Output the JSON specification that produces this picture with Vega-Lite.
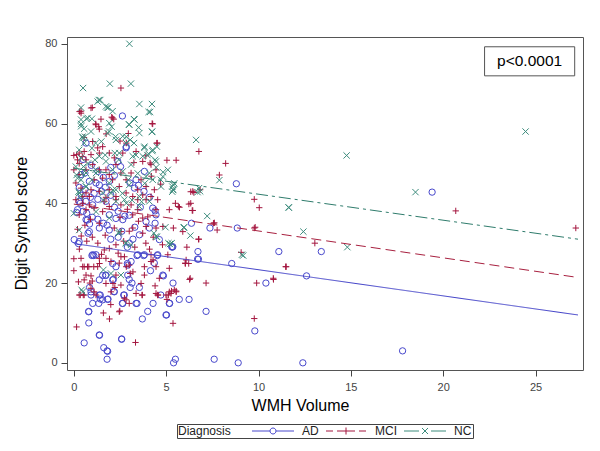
{
"$schema":"https://vega.github.io/schema/vega-lite/v6.json",
"width":516,"height":333,
"autosize":{"type":"none"},
"padding":{"left":67,"top":37,"right":17,"bottom":81},
"background":"white",
"config":{"view":{"stroke":"#555","strokeWidth":1},"font":"Liberation Sans",
 "legend":{"title":"Diagnosis","orient":"none","legendX":110,"legendY":387,"direction":"horizontal","titleOrient":"left","titleFont":"Liberation Sans","titleFontSize":12,"titleFontWeight":"normal","titleColor":"#222","titlePadding":20,"labelFont":"Liberation Sans","labelFontSize":12,"labelColor":"#222","strokeColor":"#444","padding":1,"symbolSize":100,"symbolStrokeWidth":1,"symbolOffset":16,"labelOffset":23,"columnPadding":5}},
"datasets":{
"fit":[{"g":"AD","x":0,"y":29.9},{"g":"AD","x":27.3,"y":12.0},{"g":"MCI","x":0,"y":39.8},{"g":"MCI","x":27.3,"y":21.4},{"g":"NC","x":0,"y":48.8},{"g":"NC","x":27.3,"y":31.0}],
"note":[{"label":"p<0.0001"}],
"pts":[
{"g":"AD","x":19.4,"y":42.8},{"g":"AD","x":8.8,"y":44.9},{"g":"AD","x":17.8,"y":3.0},{"g":"AD","x":12.4,"y":0},{"g":"AD","x":8.9,"y":0},{"g":"AD","x":7.6,"y":0.9},{"g":"AD","x":5.5,"y":0.9},{"g":"AD","x":5.4,"y":0},{"g":"AD","x":9.8,"y":8.0},{"g":"AD","x":10.4,"y":20.0},{"g":"AD","x":11.1,"y":27.9},{"g":"AD","x":12.6,"y":21.8},{"g":"AD","x":13.4,"y":27.9},{"g":"AD","x":8.55,"y":24.9},{"g":"AD","x":8.85,"y":33.8},{"g":"AD","x":7.37,"y":33.8},{"g":"AD","x":7.16,"y":12.9},{"g":"AD","x":6.72,"y":27.9},{"g":"AD","x":6.7,"y":26.0},{"g":"AD","x":6.37,"y":35.0},{"g":"AD","x":6.24,"y":15.9},{"g":"AD","x":5.71,"y":15.9},{"g":"AD","x":5.37,"y":20.0},{"g":"AD","x":5.33,"y":29.0},{"g":"AD","x":5.19,"y":14.9},{"g":"AD","x":5.02,"y":12.0},{"g":"AD","x":4.85,"y":21.8},{"g":"AD","x":4.71,"y":17.0},{"g":"AD","x":4.63,"y":30.9},{"g":"AD","x":4.52,"y":26.9},{"g":"AD","x":4.4,"y":35.0},{"g":"AD","x":4.4,"y":38.1},{"g":"AD","x":4.29,"y":14.9},{"g":"AD","x":4.15,"y":23.1},{"g":"AD","x":4.0,"y":12.9},{"g":"AD","x":3.78,"y":26.9},{"g":"AD","x":3.71,"y":11.0},{"g":"AD","x":3.55,"y":18.9},{"g":"AD","x":3.42,"y":14.9},{"g":"AD","x":3.42,"y":26.9},{"g":"AD","x":3.15,"y":20.0},{"g":"AD","x":3.05,"y":18.9},{"g":"AD","x":3.0,"y":20.9},{"g":"AD","x":2.9,"y":24.9},{"g":"AD","x":2.9,"y":29.0},{"g":"AD","x":2.76,"y":36.8},{"g":"AD","x":2.7,"y":17.0},{"g":"AD","x":2.63,"y":14.9},{"g":"AD","x":2.59,"y":5.9},{"g":"AD","x":2.63,"y":61.9},{"g":"AD","x":2.84,"y":54.2},{"g":"AD","x":2.53,"y":49.2},{"g":"AD","x":2.18,"y":17.9},{"g":"AD","x":2.14,"y":20.9},{"g":"AD","x":2.1,"y":24.9},{"g":"AD","x":1.85,"y":16.0},{"g":"AD","x":1.8,"y":0.9},{"g":"AD","x":1.8,"y":3.0},{"g":"AD","x":1.62,"y":3.8},{"g":"AD","x":1.72,"y":21.9},{"g":"AD","x":1.56,"y":21.9},{"g":"AD","x":1.43,"y":16.0},{"g":"AD","x":1.35,"y":14.9},{"g":"AD","x":1.43,"y":17.0},{"g":"AD","x":1.39,"y":6.9},{"g":"AD","x":1.02,"y":14.9},{"g":"AD","x":0.93,"y":17.8},{"g":"AD","x":0.85,"y":18.9},{"g":"AD","x":0.81,"y":12.9},{"g":"AD","x":0.81,"y":10.0},{"g":"AD","x":0.56,"y":5.0},{"g":"AD","x":0.02,"y":30.9},{"g":"AD","x":0.25,"y":29.9},{"g":"AD","x":0.15,"y":37.7},{"g":"AD","x":0.35,"y":40.0},{"g":"AD","x":1.08,"y":26.9},{"g":"AD","x":0.98,"y":26.9},{"g":"AD","x":0.73,"y":35.8},{"g":"AD","x":0.85,"y":34.8},{"g":"AD","x":0.77,"y":32.5},
{"g":"AD","x":0.29,"y":30.4},{"g":"AD","x":1.02,"y":27.1},{"g":"AD","x":1.2,"y":27.1},{"g":"AD","x":1.74,"y":22.0},{"g":"AD","x":2.28,"y":24.1},{"g":"AD","x":2.92,"y":24.5},{"g":"AD","x":3.1,"y":25.4},{"g":"AD","x":3.46,"y":27.1},{"g":"AD","x":3.82,"y":27.1},{"g":"AD","x":4.54,"y":27.1},{"g":"AD","x":4.36,"y":25.0},{"g":"AD","x":4.82,"y":22.0},{"g":"AD","x":5.36,"y":29.1},{"g":"AD","x":1.38,"y":20.8},{"g":"AD","x":2.1,"y":20.8},{"g":"AD","x":2.92,"y":22.0},{"g":"AD","x":0.2,"y":38.4},{"g":"AD","x":0.66,"y":35.9},{"g":"AD","x":1.38,"y":33.8},{"g":"AD","x":1.92,"y":33.3},{"g":"AD","x":0.84,"y":32.9},{"g":"AD","x":3.55,"y":32.1},{"g":"AD","x":4.09,"y":33.8},{"g":"AD","x":3.91,"y":35.4},{"g":"AD","x":4.45,"y":37.1},{"g":"AD","x":4.27,"y":38.8},{"g":"AD","x":2.65,"y":35.9},{"g":"AD","x":2.28,"y":36.2},{"g":"AD","x":1.92,"y":37.1},{"g":"AD","x":0.29,"y":40.5},{"g":"AD","x":0.66,"y":40.5},{"g":"AD","x":1.74,"y":40.5},{"g":"AD","x":1.02,"y":39.6},
{"g":"AD","x":0.66,"y":55.1},{"g":"AD","x":2.83,"y":53.9},{"g":"AD","x":2.38,"y":50.5},{"g":"AD","x":3.82,"y":48.0},{"g":"AD","x":3.37,"y":45.9},{"g":"AD","x":1.2,"y":45.1},{"g":"AD","x":1.38,"y":44.6},{"g":"AD","x":0.84,"y":45.5},{"g":"AD","x":0.39,"y":47.2},{"g":"AD","x":1.92,"y":45.5},{"g":"AD","x":3.28,"y":43.8},{"g":"AD","x":0.6,"y":47.6},{"g":"AD","x":3.04,"y":45.1},
{"g":"AD","x":0.93,"y":17.0},{"g":"AD","x":1.38,"y":17.0},{"g":"AD","x":2.19,"y":17.8},{"g":"AD","x":2.73,"y":17.0},{"g":"AD","x":1.56,"y":15.8},{"g":"AD","x":1.83,"y":15.9},{"g":"AD","x":2.65,"y":14.9},{"g":"AD","x":3.37,"y":14.9},{"g":"AD","x":5.17,"y":14.9},{"g":"AD","x":4.99,"y":12.0},{"g":"AD","x":0.8,"y":12.8},{"g":"AD","x":1.38,"y":7.0},{"g":"AD","x":2.59,"y":6.0},{"g":"AD","x":1.83,"y":2.9},
{"g":"AD","x":0.4,"y":42},{"g":"AD","x":0.6,"y":43.5},{"g":"AD","x":0.9,"y":41.5},{"g":"AD","x":1.1,"y":42.5},{"g":"AD","x":1.3,"y":41},{"g":"AD","x":1.5,"y":43},{"g":"AD","x":1.7,"y":44},{"g":"AD","x":2.0,"y":42},{"g":"AD","x":2.2,"y":39},{"g":"AD","x":2.4,"y":38},{"g":"AD","x":0.5,"y":38},{"g":"AD","x":0.7,"y":37.5},{"g":"AD","x":1.0,"y":36.5},{"g":"AD","x":1.3,"y":36},{"g":"AD","x":1.6,"y":35},{"g":"AD","x":1.8,"y":34.5},{"g":"AD","x":2.0,"y":31},{"g":"AD","x":2.4,"y":31.5},{"g":"AD","x":2.6,"y":33},{"g":"AD","x":3.0,"y":30},{"g":"AD","x":3.2,"y":31},{"g":"AD","x":3.3,"y":34},{"g":"AD","x":3.0,"y":37},{"g":"AD","x":3.6,"y":39},{"g":"AD","x":2.2,"y":47},{"g":"AD","x":2.0,"y":49},{"g":"AD","x":1.6,"y":46.5},{"g":"AD","x":1.3,"y":48},{"g":"AD","x":0.95,"y":49.5},{"g":"AD","x":0.5,"y":51},{"g":"AD","x":0.3,"y":44},{"g":"AD","x":3.8,"y":43},{"g":"AD","x":4.1,"y":41.5},{"g":"AD","x":3.5,"y":44.5},{"g":"AD","x":5.3,"y":29.1},{"g":"AD","x":6.75,"y":26.0},
{"g":"MCI","x":2.55,"y":68.9},{"g":"MCI","x":0.31,"y":63},{"g":"MCI","x":0.39,"y":62.6},{"g":"MCI","x":1.0,"y":64},{"g":"MCI","x":1.18,"y":59.9},{"g":"MCI","x":1.35,"y":59.2},{"g":"MCI","x":1.47,"y":61.1},{"g":"MCI","x":2.16,"y":61.1},{"g":"MCI","x":2.05,"y":61.6},{"g":"MCI","x":4.27,"y":59.9},{"g":"MCI","x":4.52,"y":55.1},{"g":"MCI","x":2.84,"y":55.1},{"g":"MCI","x":5.04,"y":50.8},{"g":"MCI","x":5.54,"y":50.8},{"g":"MCI","x":8.22,"y":50.0},{"g":"MCI","x":6.77,"y":53.0},{"g":"MCI","x":7.88,"y":47.1},{"g":"MCI","x":6.33,"y":42.9},{"g":"MCI","x":5.5,"y":40.0},{"g":"MCI","x":5.66,"y":39.2},{"g":"MCI","x":6.23,"y":39.8},{"g":"MCI","x":6.41,"y":38.2},{"g":"MCI","x":6.5,"y":42.7},{"g":"MCI","x":9.77,"y":41.0},{"g":"MCI","x":10.04,"y":38.9},{"g":"MCI","x":9.77,"y":33.8},{"g":"MCI","x":7.61,"y":35.1},{"g":"MCI","x":7.76,"y":33.3},{"g":"MCI","x":20.68,"y":38.1},{"g":"MCI","x":27.18,"y":33.8},{"g":"MCI","x":13.05,"y":30.0},{"g":"MCI","x":11.47,"y":24.1},{"g":"MCI","x":10.81,"y":20.9},{"g":"MCI","x":9.9,"y":20.0},{"g":"MCI","x":9.77,"y":11.1},{"g":"MCI","x":7.16,"y":20.0},{"g":"MCI","x":6.27,"y":20.9},{"g":"MCI","x":6.12,"y":29.0},{"g":"MCI","x":6.77,"y":31.0},{"g":"MCI","x":6.04,"y":24.9},{"g":"MCI","x":6.22,"y":24.9},{"g":"MCI","x":5.37,"y":9.9},{"g":"MCI","x":5.29,"y":18.0},{"g":"MCI","x":5.54,"y":18.0},{"g":"MCI","x":5.12,"y":17.0},{"g":"MCI","x":5.04,"y":15.9},{"g":"MCI","x":4.56,"y":17.0},{"g":"MCI","x":4.29,"y":25.8},{"g":"MCI","x":3.82,"y":24.1},{"g":"MCI","x":3.71,"y":17.0},{"g":"MCI","x":3.34,"y":5.1},{"g":"MCI","x":2.49,"y":13.0},{"g":"MCI","x":1.93,"y":11.0},{"g":"MCI","x":0.15,"y":9.0},{"g":"MCI","x":0,"y":26.1},{"g":"MCI","x":0,"y":23.1},{"g":"MCI","x":0.35,"y":17.0},{"g":"MCI","x":0.56,"y":17.0},{"g":"MCI","x":0.87,"y":20},{"g":"MCI","x":0.93,"y":21.8},{"g":"MCI","x":0.56,"y":24.1},{"g":"MCI","x":0.81,"y":24.1},{"g":"MCI","x":1.08,"y":24.1},{"g":"MCI","x":1.29,"y":24.1},{"g":"MCI","x":1.39,"y":24.9},{"g":"MCI","x":2.22,"y":18.9},{"g":"MCI","x":2.12,"y":19.9},{"g":"MCI","x":2.74,"y":16.2},{"g":"MCI","x":3.0,"y":14.9},{"g":"MCI","x":3.05,"y":22.4},{"g":"MCI","x":2.84,"y":24.1},{"g":"MCI","x":0,"y":52},{"g":"MCI","x":0.15,"y":52.2},{"g":"MCI","x":0.29,"y":50},{"g":"MCI","x":0.46,"y":51.7},
{"g":"MCI","x":6.44,"y":43.0},{"g":"MCI","x":6.84,"y":43.4},{"g":"MCI","x":5.72,"y":39.0},{"g":"MCI","x":6.33,"y":40.0},{"g":"MCI","x":6.44,"y":38.2},{"g":"MCI","x":5.39,"y":33.8},{"g":"MCI","x":7.56,"y":35.0},{"g":"MCI","x":9.82,"y":34.0},{"g":"MCI","x":6.75,"y":31.0},{"g":"MCI","x":9.06,"y":27.7},{"g":"MCI","x":6.03,"y":25.0},{"g":"MCI","x":11.5,"y":24.1},{"g":"MCI","x":6.3,"y":21.2},{"g":"MCI","x":10.8,"y":21.2},
{"g":"MCI","x":0.29,"y":17},{"g":"MCI","x":0.51,"y":17},{"g":"MCI","x":1.1,"y":17.8},{"g":"MCI","x":2.83,"y":15.8},{"g":"MCI","x":2.46,"y":12.8},{"g":"MCI","x":3.69,"y":17},{"g":"MCI","x":4.54,"y":17},{"g":"MCI","x":4.99,"y":17},{"g":"MCI","x":5.17,"y":17.8},{"g":"MCI","x":5.54,"y":17.8},
{"g":"MCI","x":0.39,"y":26.2},{"g":"MCI","x":0.48,"y":24.1},{"g":"MCI","x":0.74,"y":24.1},{"g":"MCI","x":1.38,"y":26.2},{"g":"MCI","x":1.74,"y":26.2},{"g":"MCI","x":1.65,"y":28.3},{"g":"MCI","x":1.92,"y":28.7},{"g":"MCI","x":2.28,"y":29.6},{"g":"MCI","x":2.01,"y":25.4},{"g":"MCI","x":2.46,"y":25.0},{"g":"MCI","x":2.55,"y":26.6},{"g":"MCI","x":2.74,"y":26.6},{"g":"MCI","x":3.0,"y":24.5},{"g":"MCI","x":4.18,"y":27.1},{"g":"MCI","x":4.18,"y":25.4},{"g":"MCI","x":4.45,"y":24.1},{"g":"MCI","x":5.09,"y":27.1},{"g":"MCI","x":5.17,"y":23.7},{"g":"MCI","x":5.9,"y":32.9},{"g":"MCI","x":4.82,"y":34.2},{"g":"MCI","x":4.45,"y":33.8},{"g":"MCI","x":3.91,"y":34.2},{"g":"MCI","x":3.73,"y":32.5},{"g":"MCI","x":3.19,"y":33.8},{"g":"MCI","x":3.0,"y":33},{"g":"MCI","x":2.55,"y":32.9},{"g":"MCI","x":2.19,"y":33.8},{"g":"MCI","x":1.38,"y":35},{"g":"MCI","x":0.29,"y":37.1},{"g":"MCI","x":0.66,"y":38.4},{"g":"MCI","x":1.1,"y":38.8},{"g":"MCI","x":1.56,"y":37.9},{"g":"MCI","x":3.19,"y":37.1},{"g":"MCI","x":3.46,"y":38.4},{"g":"MCI","x":3.73,"y":36.3},{"g":"MCI","x":4.0,"y":36.6},{"g":"MCI","x":4.45,"y":38.4},{"g":"MCI","x":4.54,"y":40.9},{"g":"MCI","x":5.17,"y":38.4},{"g":"MCI","x":3.1,"y":39.6},{"g":"MCI","x":3.46,"y":40.9},{"g":"MCI","x":3.91,"y":40.9},{"g":"MCI","x":2.55,"y":39.6},{"g":"MCI","x":1.92,"y":39.2},{"g":"MCI","x":2.28,"y":40.9},{"g":"MCI","x":0.11,"y":40.9},{"g":"MCI","x":0.48,"y":40.0},{"g":"MCI","x":0.84,"y":39.6},{"g":"MCI","x":1.65,"y":40.5},{"g":"MCI","x":0.56,"y":20.8},{"g":"MCI","x":0.66,"y":22.0},{"g":"MCI","x":0.93,"y":18.7},{"g":"MCI","x":1.2,"y":17.0},{"g":"MCI","x":1.74,"y":19.9},{"g":"MCI","x":2.01,"y":17.8},{"g":"MCI","x":2.28,"y":22.0},{"g":"MCI","x":2.55,"y":19.5},{"g":"MCI","x":3.37,"y":17.4},{"g":"MCI","x":3.64,"y":19.9},{"g":"MCI","x":3.82,"y":22.0},{"g":"MCI","x":4.45,"y":17.4},{"g":"MCI","x":4.63,"y":21.2},{"g":"MCI","x":5.26,"y":17.4},{"g":"MCI","x":5.44,"y":18.3},{"g":"MCI","x":6.08,"y":25.8},
{"g":"MCI","x":0.39,"y":63.1},{"g":"MCI","x":0.93,"y":63.9},{"g":"MCI","x":1.2,"y":59.7},{"g":"MCI","x":1.38,"y":58.6},{"g":"MCI","x":2.1,"y":61.4},{"g":"MCI","x":4.24,"y":60.0},{"g":"MCI","x":4.49,"y":55.1},{"g":"MCI","x":1.02,"y":55.5},{"g":"MCI","x":1.29,"y":53.9},{"g":"MCI","x":1.56,"y":54.2},{"g":"MCI","x":0.29,"y":52.6},{"g":"MCI","x":0.2,"y":50.9},{"g":"MCI","x":0.56,"y":53.0},{"g":"MCI","x":0.93,"y":52.2},{"g":"MCI","x":1.38,"y":52.6},{"g":"MCI","x":0.66,"y":50.9},{"g":"MCI","x":1.92,"y":52.6},{"g":"MCI","x":2.65,"y":52.6},{"g":"MCI","x":2.19,"y":51.4},{"g":"MCI","x":2.28,"y":49.7},{"g":"MCI","x":3.37,"y":53.0},{"g":"MCI","x":3.73,"y":50.5},{"g":"MCI","x":4.18,"y":49.7},{"g":"MCI","x":4.45,"y":48.4},{"g":"MCI","x":1.02,"y":49.7},{"g":"MCI","x":1.38,"y":48.4},{"g":"MCI","x":1.74,"y":48.4},{"g":"MCI","x":1.92,"y":47.2},{"g":"MCI","x":2.55,"y":47.6},{"g":"MCI","x":0,"y":48.4},{"g":"MCI","x":0.29,"y":47.2},{"g":"MCI","x":0.66,"y":48.4},{"g":"MCI","x":1.1,"y":45.9},{"g":"MCI","x":1.56,"y":46.3},{"g":"MCI","x":2.1,"y":45.9},{"g":"MCI","x":2.46,"y":44.2},{"g":"MCI","x":2.83,"y":45.9},{"g":"MCI","x":3.1,"y":47.6},{"g":"MCI","x":3.64,"y":45.9},{"g":"MCI","x":3.91,"y":44.2},{"g":"MCI","x":4.36,"y":43.4},{"g":"MCI","x":3.46,"y":43.4},{"g":"MCI","x":0.11,"y":45.1},{"g":"MCI","x":0.39,"y":43.8},{"g":"MCI","x":0.66,"y":42.6},{"g":"MCI","x":0.93,"y":43.4},{"g":"MCI","x":1.38,"y":43.0},{"g":"MCI","x":1.92,"y":43.4},{"g":"MCI","x":2.83,"y":42.6},{"g":"MCI","x":3.19,"y":41.7},{"g":"MCI","x":3.73,"y":42.1},{"g":"MCI","x":4.18,"y":41.7},{"g":"MCI","x":0.48,"y":41.7},{"g":"MCI","x":0.84,"y":41.7},{"g":"MCI","x":1.74,"y":41.5},{"g":"MCI","x":2.28,"y":41.7},{"g":"MCI","x":4.13,"y":50.1},
{"g":"MCI","x":0.3,"y":28.5},{"g":"MCI","x":0.7,"y":30.5},{"g":"MCI","x":1.0,"y":31.5},{"g":"MCI","x":1.3,"y":30},{"g":"MCI","x":2.7,"y":30.5},{"g":"MCI","x":3.3,"y":29},{"g":"MCI","x":3.9,"y":30},{"g":"MCI","x":4.3,"y":31.5},{"g":"MCI","x":0.2,"y":33.5},{"g":"MCI","x":0.6,"y":34.5},{"g":"MCI","x":0.9,"y":36},{"g":"MCI","x":1.7,"y":32},{"g":"MCI","x":2.5,"y":36.5},{"g":"MCI","x":2.9,"y":38.5},{"g":"MCI","x":3.5,"y":35.5},{"g":"MCI","x":4.1,"y":28.5},{"g":"MCI","x":0.4,"y":31.8},{"g":"MCI","x":1.5,"y":27.2},{"g":"MCI","x":1.0,"y":20.5},{"g":"MCI","x":0.25,"y":20.3},{"g":"MCI","x":2.4,"y":27.5},{"g":"MCI","x":1.6,"y":12.5},{"g":"MCI","x":3.2,"y":22.8},{"g":"MCI","x":2.0,"y":14.6},{"g":"MCI","x":4.4,"y":19.3},{"g":"MCI","x":4.8,"y":29.6},{"g":"MCI","x":4.7,"y":44.8},{"g":"MCI","x":4.2,"y":46.8},{"g":"MCI","x":2.95,"y":57.5},{"g":"MCI","x":3.25,"y":50.2},{"g":"MCI","x":0.55,"y":56.5},{"g":"MCI","x":1.75,"y":57.4},{"g":"MCI","x":2.5,"y":55.6},{"g":"MCI","x":3.9,"y":51.9},
{"g":"NC","x":3.01,"y":80},{"g":"NC","x":1.95,"y":70},{"g":"NC","x":3.09,"y":70},{"g":"NC","x":0.5,"y":68.9},{"g":"NC","x":0.39,"y":64},{"g":"NC","x":1.35,"y":65.9},{"g":"NC","x":1.43,"y":65.9},{"g":"NC","x":1.29,"y":65.5},{"g":"NC","x":1.8,"y":64},{"g":"NC","x":1.87,"y":64},{"g":"NC","x":3.55,"y":64.9},{"g":"NC","x":4.23,"y":64.9},{"g":"NC","x":4.13,"y":62.9},{"g":"NC","x":4.05,"y":62.9},{"g":"NC","x":3.26,"y":61.1},{"g":"NC","x":2.99,"y":59.8},{"g":"NC","x":3.51,"y":59},{"g":"NC","x":4.23,"y":57.9},{"g":"NC","x":0.68,"y":61.2},{"g":"NC","x":0.98,"y":61.2},{"g":"NC","x":0.39,"y":59.9},{"g":"NC","x":0.56,"y":58.7},{"g":"NC","x":0.46,"y":56.7},{"g":"NC","x":0.6,"y":56.7},{"g":"NC","x":6.62,"y":55.9},{"g":"NC","x":14.77,"y":52.0},{"g":"NC","x":24.46,"y":58.0},{"g":"NC","x":18.5,"y":42.8},{"g":"NC","x":11.64,"y":38.9},{"g":"NC","x":12.43,"y":32.9},{"g":"NC","x":14.81,"y":29.0},{"g":"NC","x":9.17,"y":26.9},{"g":"NC","x":7.22,"y":36.8},{"g":"NC","x":6.78,"y":43.8},{"g":"NC","x":6.7,"y":42.8},{"g":"NC","x":7.88,"y":45.8},{"g":"NC","x":5.33,"y":42.9},{"g":"NC","x":5.33,"y":44.2},{"g":"NC","x":5.44,"y":45.0},{"g":"NC","x":4.96,"y":34.0},{"g":"NC","x":5.12,"y":30.0},{"g":"NC","x":5.21,"y":29.8},{"g":"NC","x":5.95,"y":33.9},{"g":"NC","x":6.31,"y":31.9},{"g":"NC","x":4.83,"y":47.8},{"g":"NC","x":4.71,"y":45.9},{"g":"NC","x":4.46,"y":49},{"g":"NC","x":4.4,"y":50.9},{"g":"NC","x":4.25,"y":53.1},{"g":"NC","x":4.5,"y":54.2},{"g":"NC","x":3.98,"y":52.1},{"g":"NC","x":4.05,"y":52.4},{"g":"NC","x":3.36,"y":52.1},{"g":"NC","x":3.82,"y":54.2},{"g":"NC","x":3.26,"y":55.1},{"g":"NC","x":2.84,"y":56.7},{"g":"NC","x":3.05,"y":55.9},{"g":"NC","x":2.26,"y":56.7},{"g":"NC","x":1.91,"y":58},{"g":"NC","x":2.05,"y":59.2},{"g":"NC","x":1.49,"y":55.5},{"g":"NC","x":1.18,"y":55.1},{"g":"NC","x":0.98,"y":53.8},{"g":"NC","x":1.7,"y":52.1},{"g":"NC","x":2.22,"y":52.6},{"g":"NC","x":2.43,"y":50.9},{"g":"NC","x":1.14,"y":50.9},{"g":"NC","x":0.77,"y":50},{"g":"NC","x":0.52,"y":49.2},{"g":"NC","x":0.15,"y":47.1},{"g":"NC","x":0.46,"y":47.5},{"g":"NC","x":0.39,"y":45.9},{"g":"NC","x":0.66,"y":44.2},{"g":"NC","x":0.98,"y":45.9},{"g":"NC","x":1.18,"y":48.4},{"g":"NC","x":0.25,"y":42.9},{"g":"NC","x":0.35,"y":41.7},{"g":"NC","x":2.01,"y":42.5},{"g":"NC","x":2.63,"y":42.5},{"g":"NC","x":2.12,"y":43.3},{"g":"NC","x":2.84,"y":40},{"g":"NC","x":3.15,"y":40.8},{"g":"NC","x":3.67,"y":40.4},{"g":"NC","x":3.84,"y":45},{"g":"NC","x":3.46,"y":47.5},{"g":"NC","x":2.95,"y":45.9},{"g":"NC","x":1.6,"y":40.8},{"g":"NC","x":2.43,"y":32.5},{"g":"NC","x":2.8,"y":30},{"g":"NC","x":2.01,"y":22.4},{"g":"NC","x":1.6,"y":23.3},{"g":"NC","x":0.42,"y":18.3},{"g":"NC","x":4.34,"y":32.5},{"g":"NC","x":4.5,"y":31.6},
{"g":"NC","x":1.74,"y":64.3},{"g":"NC","x":2.1,"y":63.1},{"g":"NC","x":0.39,"y":61},{"g":"NC","x":0.75,"y":61.4},{"g":"NC","x":3.28,"y":61.0},{"g":"NC","x":3.0,"y":59.7},{"g":"NC","x":4.24,"y":58.0},{"g":"NC","x":3.55,"y":57.6},{"g":"NC","x":0.39,"y":59.3},{"g":"NC","x":0.93,"y":58.0},{"g":"NC","x":1.92,"y":60.1},{"g":"NC","x":1.83,"y":57.6},{"g":"NC","x":2.65,"y":56.8},{"g":"NC","x":2.28,"y":55.9},{"g":"NC","x":0.48,"y":56.4},{"g":"NC","x":0.56,"y":55.1},{"g":"NC","x":2.83,"y":55.1},{"g":"NC","x":3.82,"y":53.9},{"g":"NC","x":4.27,"y":53.4},{"g":"NC","x":3.19,"y":51.8},{"g":"NC","x":3.73,"y":51.8},{"g":"NC","x":4.45,"y":50.5},{"g":"NC","x":4.09,"y":47.6},{"g":"NC","x":4.82,"y":46.7},{"g":"NC","x":5.36,"y":43.4},{"g":"NC","x":5.09,"y":48.4},{"g":"NC","x":0.29,"y":53.4},{"g":"NC","x":0.39,"y":51.4},{"g":"NC","x":1.38,"y":51.8},{"g":"NC","x":1.74,"y":50.5},{"g":"NC","x":2.46,"y":52.6},{"g":"NC","x":3.1,"y":49.7},{"g":"NC","x":0.11,"y":49.2},{"g":"NC","x":0.66,"y":47.6},{"g":"NC","x":1.2,"y":47.6},{"g":"NC","x":2.1,"y":48.4},{"g":"NC","x":2.65,"y":48.0},{"g":"NC","x":0.2,"y":46.3},{"g":"NC","x":0.66,"y":44.2},{"g":"NC","x":1.92,"y":45.1},{"g":"NC","x":3.0,"y":44.6},{"g":"NC","x":4.27,"y":45.9},{"g":"NC","x":4.72,"y":44.2},{"g":"NC","x":0.29,"y":42.6},{"g":"NC","x":1.56,"y":42.6},{"g":"NC","x":2.28,"y":43.4},{"g":"NC","x":3.55,"y":41.7},{"g":"NC","x":3.91,"y":46.7},
{"g":"NC","x":0.29,"y":33.3},{"g":"NC","x":2.46,"y":32.9},{"g":"NC","x":2.83,"y":30.0},{"g":"NC","x":3.1,"y":29.6},{"g":"NC","x":4.45,"y":31.7},{"g":"NC","x":0.48,"y":17.8},{"g":"NC","x":2.28,"y":40.5},{"g":"NC","x":2.74,"y":40.9},{"g":"NC","x":0,"y":37.5},{"g":"NC","x":1.92,"y":36.3},{"g":"NC","x":1.2,"y":37.9},{"g":"NC","x":3.55,"y":39.2},{"g":"NC","x":4.09,"y":40.5},{"g":"NC","x":2.55,"y":22.0},
{"g":"NC","x":5.39,"y":44.6},{"g":"NC","x":5.39,"y":43.4},{"g":"NC","x":6.84,"y":43.0},{"g":"NC","x":5.97,"y":34.0},{"g":"NC","x":5.3,"y":30.0},{"g":"NC","x":9.1,"y":27.1},{"g":"NC","x":11.63,"y":39.0}
]},
"layer":[
{"data":{"name":"pts"},
 "transform":[{"filter":"datum.g === 'AD'"}],
 "mark":{"type":"point","shape":"circle","filled":false,"strokeWidth":1,"size":40,"opacity":1},
 "encoding":{
  "x":{"field":"x","type":"quantitative","scale":{"domain":[-0.37,27.57],"nice":false,"zero":false},
   "axis":{"title":"WMH Volume","values":[0,5,10,15,20,25],"grid":false,"domain":false,"tickColor":"#444","tickSize":6,"labelFont":"Liberation Sans Narrow, Liberation Sans, Arial","labelFontSize":11,"labelColor":"#444","labelPadding":5,"titleFont":"Liberation Sans","titleFontSize":16,"titleFontWeight":"normal","titleColor":"#000","titleX":233,"titleY":40,"titleBaseline":"alphabetic"}},
  "y":{"field":"y","type":"quantitative","scale":{"domain":[-1.8,81.7],"nice":false,"zero":false},
   "axis":{"title":"Digit Symbol score","values":[0,20,40,60,80],"grid":false,"domain":false,"tickColor":"#444","tickSize":6,"labelFont":"Liberation Sans Narrow, Liberation Sans, Arial","labelFontSize":11,"labelColor":"#444","labelPadding":4,"titleFont":"Liberation Sans","titleFontSize":16,"titleFontWeight":"normal","titleColor":"#000","titleX":-46,"titleY":186,"titleAngle":270,"titleAlign":"center","titleBaseline":"middle"}},
  "color":{"field":"g","type":"nominal","scale":{"domain":["AD","MCI","NC"],"range":["#4848cc","#a4163f","#3d8c7d"]},"title":"Diagnosis"}
 }},
{"data":{"name":"pts"},
 "transform":[{"filter":"datum.g === 'MCI'"}],
 "mark":{"type":"point","shape":"M-1,0L1,0M0,-1L0,1","filled":false,"strokeWidth":1,"size":40,"opacity":1},
 "encoding":{"x":{"field":"x","type":"quantitative"},"y":{"field":"y","type":"quantitative"},"color":{"field":"g","type":"nominal","title":"Diagnosis"}}},
{"data":{"name":"pts"},
 "transform":[{"filter":"datum.g === 'NC'"}],
 "mark":{"type":"point","shape":"M-1,-1L1,1M-1,1L1,-1","filled":false,"strokeWidth":1,"size":40,"opacity":1},
 "encoding":{"x":{"field":"x","type":"quantitative"},"y":{"field":"y","type":"quantitative"},"color":{"field":"g","type":"nominal","title":"Diagnosis"}}},
{"data":{"name":"fit"},
 "transform":[{"filter":"false"}],
 "mark":{"type":"point","filled":false,"strokeWidth":1,"opacity":1},
 "encoding":{"x":{"field":"x","type":"quantitative"},"y":{"field":"y","type":"quantitative"},
  "color":{"field":"g","type":"nominal","title":"Diagnosis"},
  "shape":{"field":"g","type":"nominal","title":"Diagnosis","scale":{"domain":["AD","MCI","NC"],"range":["M-4.2,0L-0.6,0M0.6,0L4.2,0M-0.6,0A0.6,0.6 0 1 0 0.6,0A0.6,0.6 0 1 0 -0.6,0","M-4,0L-2.6,0M-1.8,0L1.8,0M2.6,0L4,0M0,-0.7L0,0.7","M-4.2,0L-1.2,0M1.2,0L4.2,0M-0.6,-0.6L0.6,0.6M-0.6,0.6L0.6,-0.6"]}}}},
{"data":{"name":"fit"},
 "mark":{"type":"line","strokeWidth":1},
 "encoding":{
  "x":{"field":"x","type":"quantitative"},
  "y":{"field":"y","type":"quantitative"},
  "detail":{"field":"g"},
  "stroke":{"field":"g","type":"nominal","scale":{"domain":["AD","MCI","NC"],"range":["#4040c8","#a8203f","#2f7c6c"]},"legend":null},
  "strokeDash":{"field":"g","type":"nominal","scale":{"domain":["AD","MCI","NC"],"range":[[1,0],[10,5],[12,4,3,4]]},"legend":null}
 }},
{"data":{"name":"note"},
 "mark":{"type":"rect","fill":"white","stroke":"#555","strokeWidth":1},
 "encoding":{"x":{"datum":22.24},"x2":{"datum":27.12},"y":{"datum":79.25},"y2":{"datum":71.96}}},
{"data":{"name":"note"},
 "mark":{"type":"text","font":"Liberation Sans","fontSize":15.5,"color":"#000","align":"center","baseline":"middle"},
 "encoding":{"x":{"datum":24.68},"y":{"datum":75.6},"text":{"field":"label"}}}
],
"resolve":{"scale":{"stroke":"independent","strokeDash":"independent"}}
}
